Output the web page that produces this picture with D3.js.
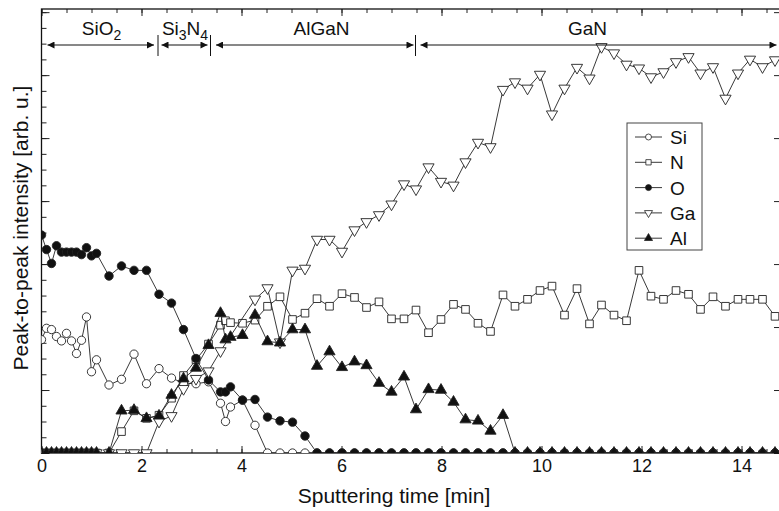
<!DOCTYPE html>
<html>
<head>
<meta charset="utf-8">
<script src="https://cdn.jsdelivr.net/npm/d3@7"></script>
<style>
body { margin: 0; background: #fff; }
text { font-family: "Liberation Sans", Arial, sans-serif; fill: #111; }
</style>
</head>
<body>
<svg id="chart" width="779" height="511"></svg>
<script>
// Sputtering time [min] of every measurement point
var times = [0, 0.1, 0.2, 0.3, 0.4, 0.5, 0.6, 0.7, 0.8, 0.9, 1.0, 1.1,
    1.35, 1.6, 1.85, 2.1, 2.35, 2.6, 2.84, 3.09, 3.34, 3.58, 3.68, 3.78, 4.02, 4.27,
    4.52, 4.77, 5.02, 5.27, 5.51, 5.76, 6.01, 6.26, 6.5, 6.75, 7.0, 7.25,
    7.49, 7.74, 7.99, 8.24, 8.48, 8.73, 8.98, 9.23, 9.47, 9.72, 9.97, 10.21,
    10.46, 10.71, 10.96, 11.2, 11.45, 11.7, 11.95, 12.19, 12.44, 12.69, 12.94, 13.18,
    13.43, 13.68, 13.93, 14.17, 14.42, 14.67];

// Peak-to-peak intensities (arb. u.), null = no point
var siVals = [1.80, 1.98, 1.96, 1.85, 1.78, 1.90, 1.78, 1.58, 1.79, 2.16, 1.29, 1.48,
    1.08, 1.17, 1.57, 1.10, 1.34, 1.19, 1.11, 1.10, 1.13, 0.79, 0.50, 0.73, 0.84, 0.44,
    0, 0, 0, 0, 0, 0, 0, 0, 0, 0, 0, 0,
    0, 0, 0, 0, 0, 0, 0, 0, 0, 0, 0, 0,
    0, 0, 0, 0, 0, 0, 0, 0, 0, 0, 0, 0,
    0, 0, 0, 0, 0, 0];
var nVals = [0, 0, 0, 0, 0, 0, 0, 0, 0, 0, 0, 0,
    0, 0.34, 0.67, 0.55, 0.60, 0.87, 1.23, 1.48, 1.73, 2.03, 2.10, 2.07, 2.06, 2.11,
    2.33, 2.48, 2.12, 2.22, 2.45, 2.33, 2.53, 2.47, 2.31, 2.40, 2.13, 2.13,
    2.27, 1.91, 2.12, 2.36, 2.28, 2.06, 1.93, 2.51, 2.33, 2.44, 2.58, 2.65,
    2.19, 2.61, 2.05, 2.35, 2.19, 2.10, 2.90, 2.49, 2.44, 2.58, 2.52, 2.28,
    2.48, 2.33, 2.44, 2.44, 2.44, 2.17];
var oVals = [3.46, 3.23, 3.01, 3.29, 3.19, 3.19, 3.19, 3.19, 3.15, 3.26, 3.13, 3.17,
    2.81, 2.97, 2.90, 2.90, 2.52, 2.38, 1.96, 1.50, 1.16, 0.97, 0.97, 1.05, 0.84, 0.85,
    0.57, 0.51, 0.49, 0.27, 0, 0, 0, 0, 0, 0, 0, 0,
    0, 0, 0, 0, 0, 0, 0, 0, 0, 0, 0, 0,
    0, 0, 0, 0, 0, 0, 0, 0, 0, 0, 0, 0,
    0, 0, 0, 0, 0, 0];
var gaVals = [0, 0, 0, 0, 0, 0, 0, 0, 0, 0, 0, 0,
    0, 0, 0, 0, 0.50, 0.59, 1.02, 1.18, 1.30, 1.62, null, null, null, 2.44,
    2.62, 1.76, 2.90, 2.93, 3.39, 3.39, 3.20, 3.54, 3.67, 3.78, 3.95, 4.27,
    4.19, 4.54, 4.31, 4.25, 4.62, 4.93, 4.86, 5.77, 5.89, 5.79, 6.01, 5.38,
    5.79, 6.12, 5.95, 6.45, 6.35, 6.17, 6.11, 5.97, 6.05, 6.21, 6.29, 6.03,
    6.13, 5.63, 6.03, 6.25, 6.13, 6.24];
var alVals = [0, 0, 0, 0, 0, 0, 0, 0, 0, 0, 0, 0,
    0, 0.67, 0.68, 0.55, 0.59, 0.92, 1.18, 1.35, 1.71, 2.22, 1.80, 1.84, 1.87, 2.19,
    1.77, 1.75, 1.96, 1.96, 1.38, 1.61, 1.36, 1.45, 1.39, 1.11, 0.97, 1.21,
    0.69, 1.01, 1.00, 0.81, 0.53, 0.51, 0.35, 0.60, 0, 0, 0, 0,
    0, 0, 0, 0, 0, 0, 0, 0, 0, 0, 0, 0,
    0, 0, 0, 0, 0, 0];

var seriesNames = ["Si", "N", "O", "Ga", "Al"];
var seriesVals = [siVals, nVals, oVals, gaVals, alVals];

// Layer annotation along the top
var layerLabels = [[["SiO", 0], ["2", 1]], [["Si", 0], ["3", 1], ["N", 0], ["4", 1]], [["AlGaN", 0]], [["GaN", 0]]];
var layerArrowFrom = [0.12, 2.40, 3.49, 7.58];
var layerArrowTo = [2.25, 3.32, 7.44, 14.70];
var layerLabelAt = [1.2, 2.87, 5.6, 10.92];
var layerBounds = [2.33, 3.38, 7.48];

var xTicks = [0, 2, 4, 6, 8, 10, 12, 14];

var svg = d3.select("#chart");
var pLeft = 41.5, pRight = 780, pTop = 9, pBottom = 453;

var x = d3.scaleLinear().domain([0, 14.77]).range([pLeft, pRight]);
var y = d3.scaleLinear().domain([0, 7.05]).range([pBottom, pTop]);

// Symbol helpers
function markerPath(name, size) {
    var type = (name == "N") ? d3.symbolSquare : (name == "Ga" || name == "Al") ? d3.symbolTriangle : d3.symbolCircle;
    return d3.symbol().type(type).size(size)();
}
function markerFill(name) {
    return (name == "O" || name == "Al") ? "#111" : "#fff";
}
function markerRot(name) {
    return name == "Ga" ? " rotate(180)" : "";
}
var markerSize = {Si: 54, N: 58, O: 56, Ga: 54, Al: 54};

// Clip
svg.append("clipPath").attr("id", "plotClip")
    .append("rect")
    .attr("x", pLeft).attr("y", pTop)
    .attr("width", pRight - pLeft).attr("height", pBottom - pTop);

// Axes: ticks drawn inward
var xMinor = d3.range(0, 15, 0.5);
var yMinor = d3.range(0, 7.01, 0.25);
var yMajor = d3.range(0, 7.01, 1);

svg.append("g")
    .attr("transform", "translate(0," + pBottom + ")")
    .call(d3.axisBottom(x).tickValues(xMinor).tickSize(-4).tickFormat(""))
    .call(g => g.select(".domain").remove());
svg.append("g")
    .attr("transform", "translate(0," + pBottom + ")")
    .call(d3.axisBottom(x).tickValues(xTicks).tickSize(-7).tickPadding(6).tickFormat(d3.format("d")))
    .call(g => g.select(".domain").remove())
    .call(g => g.selectAll("text").style("font-size", "18px").attr("fill", "#111"));
svg.append("g")
    .attr("transform", "translate(0," + pTop + ")")
    .call(d3.axisTop(x).tickValues(xMinor).tickSize(-4).tickFormat(""))
    .call(g => g.select(".domain").remove());
svg.append("g")
    .attr("transform", "translate(0," + pTop + ")")
    .call(d3.axisTop(x).tickValues(xTicks).tickSize(-7).tickFormat(""))
    .call(g => g.select(".domain").remove());
svg.append("g")
    .attr("transform", "translate(" + pLeft + ",0)")
    .call(d3.axisLeft(y).tickValues(yMinor).tickSize(-5).tickFormat(""))
    .call(g => g.select(".domain").remove());
svg.append("g")
    .attr("transform", "translate(" + pLeft + ",0)")
    .call(d3.axisLeft(y).tickValues(yMajor).tickSize(-8).tickFormat(""))
    .call(g => g.select(".domain").remove());
svg.append("g")
    .attr("transform", "translate(" + pRight + ",0)")
    .call(d3.axisRight(y).tickValues(yMajor).tickSize(-6).tickFormat(""))
    .call(g => g.select(".domain").remove());

svg.selectAll(".tick line").attr("stroke", "#222");

// Frame
svg.append("rect")
    .attr("x", pLeft).attr("y", pTop)
    .attr("width", pRight - pLeft).attr("height", pBottom - pTop)
    .attr("fill", "none").attr("stroke", "#111").attr("stroke-width", 1.3);

// Series
var plot = svg.append("g").attr("clip-path", "url(#plotClip)");
var line = d3.line().x(d => x(d.t)).y(d => y(d.v));

seriesNames.forEach(function(name, k) {
    var pts = times.map((t, i) => ({t: t, v: seriesVals[k][i]})).filter(d => d.v != null);
    plot.append("path")
        .attr("d", line(pts))
        .attr("fill", "none")
        .attr("stroke", "#222")
        .attr("stroke-width", 0.9);
    plot.selectAll(".m" + name)
        .data(pts)
        .enter()
        .append("path")
        .attr("d", markerPath(name, markerSize[name]))
        .attr("transform", d => "translate(" + x(d.t) + "," + y(d.v) + ")" + markerRot(name))
        .attr("fill", markerFill(name))
        .attr("stroke", "#222")
        .attr("stroke-width", 0.9);
});

// Layer arrows
var defs = svg.append("defs");
defs.append("marker").attr("id", "ah")
    .attr("viewBox", "0 0 10 10").attr("refX", 10).attr("refY", 5)
    .attr("markerWidth", 9).attr("markerHeight", 7)
    .attr("markerUnits", "userSpaceOnUse")
    .attr("orient", "auto-start-reverse")
    .append("path").attr("d", "M0,0 L10,5 L0,10 Z").attr("fill", "#111");

var arrowY = 45;
layerArrowFrom.forEach(function(a, i) {
    svg.append("line")
        .attr("x1", x(a)).attr("x2", x(layerArrowTo[i]))
        .attr("y1", arrowY).attr("y2", arrowY)
        .attr("stroke", "#111").attr("stroke-width", 1)
        .attr("marker-start", "url(#ah)")
        .attr("marker-end", "url(#ah)");
    var t = svg.append("text")
        .attr("x", x(layerLabelAt[i])).attr("y", 35)
        .attr("text-anchor", "middle")
        .style("font-size", "19px");
    layerLabels[i].forEach(function(p, j) {
        var prevSub = j > 0 && layerLabels[i][j - 1][1];
        var ts = t.append("tspan").text(p[0]);
        if (p[1]) ts.attr("dy", 5).style("font-size", "14px");
        else if (prevSub) ts.attr("dy", -5);
    });
});
layerBounds.forEach(function(b) {
    svg.append("line")
        .attr("x1", x(b)).attr("x2", x(b))
        .attr("y1", 35).attr("y2", 56)
        .attr("stroke", "#111").attr("stroke-width", 1);
});

// Axis titles
svg.append("text")
    .attr("x", 394).attr("y", 503)
    .attr("text-anchor", "middle")
    .style("font-size", "21px")
    .text("Sputtering time [min]");
svg.append("text")
    .attr("transform", "translate(28,228) rotate(-90)")
    .attr("text-anchor", "middle")
    .style("font-size", "21px")
    .text("Peak-to-peak intensity [arb. u.]");

// Legend
var legend = svg.append("g").attr("transform", "translate(627,123)");
legend.append("rect")
    .attr("width", 75).attr("height", 127)
    .attr("fill", "#fff").attr("stroke", "#444").attr("stroke-width", 1);
seriesNames.forEach(function(name, i) {
    var ly = 14 + i * 25.3;
    legend.append("line")
        .attr("x1", 8).attr("x2", 35).attr("y1", ly).attr("y2", ly)
        .attr("stroke", "#222").attr("stroke-width", 0.9);
    legend.append("path")
        .attr("d", markerPath(name, 28))
        .attr("transform", "translate(21.5," + ly + ")" + markerRot(name))
        .attr("fill", markerFill(name))
        .attr("stroke", "#222").attr("stroke-width", 0.8);
    legend.append("text")
        .attr("x", 43).attr("y", ly + 7)
        .style("font-size", "19px")
        .text(name);
});
</script>
</body>
</html>
